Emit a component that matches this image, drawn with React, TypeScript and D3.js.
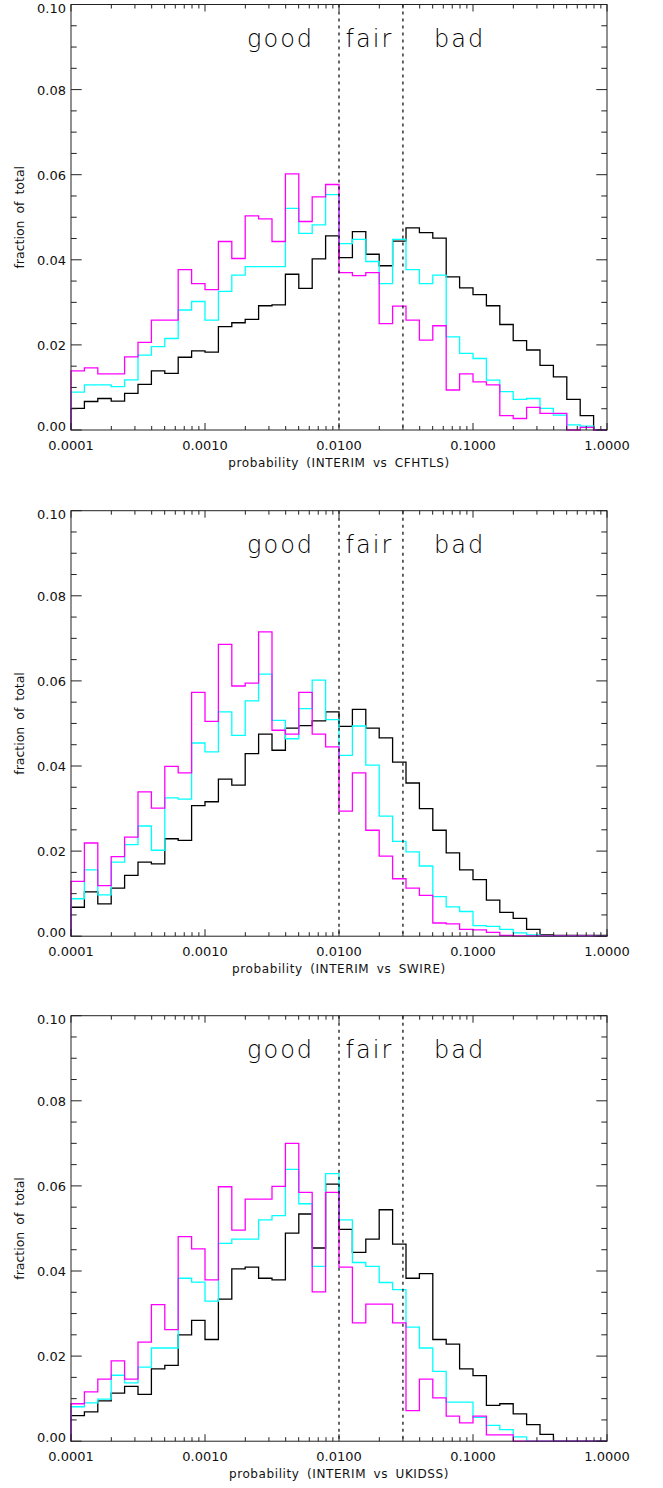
import React from "react";
import * as d3 from "d3";

// fraction of total per 0.1-dex probability bin, 1e-4 .. 1
const cfhtlsMagenta = [
  0.0139, 0.0146, 0.0132, 0.0132, 0.0172, 0.0206, 0.0258, 0.0258, 0.0377, 0.0344,
  0.033, 0.0443, 0.0403, 0.0503, 0.0496, 0.0443, 0.0602, 0.049, 0.0548, 0.0577,
  0.037, 0.0363, 0.037, 0.025, 0.0291, 0.0258, 0.0211, 0.0245, 0.0094, 0.0132,
  0.0113, 0.0106, 0.0034, 0.0027, 0.0053, 0.0039, 0.0039, 0.0, 0.0006, 0.0,
];
const cfhtlsCyan = [
  0.0089, 0.0106, 0.0106, 0.0102, 0.0118, 0.0176, 0.0196, 0.0215, 0.0282, 0.0302,
  0.0258, 0.0326, 0.0364, 0.0384, 0.0384, 0.0384, 0.0521, 0.0462, 0.0482, 0.0553,
  0.0438, 0.0448, 0.0396, 0.0344, 0.0448, 0.0377, 0.0344, 0.0364, 0.0219, 0.018,
  0.0168, 0.0117, 0.009, 0.0072, 0.0074, 0.0051, 0.0035, 0.0012, 0.0009, 0.0,
];
const cfhtlsBlack = [
  0.0051, 0.0067, 0.0074, 0.0068, 0.0086, 0.0107, 0.0139, 0.0133, 0.0171, 0.0186,
  0.0183, 0.0243, 0.0252, 0.026, 0.0292, 0.0294, 0.0366, 0.0333, 0.0402, 0.0456,
  0.0405, 0.0466, 0.0413, 0.0386, 0.0444, 0.0475, 0.0464, 0.0451, 0.036, 0.0334,
  0.0318, 0.0292, 0.0248, 0.021, 0.0188, 0.0152, 0.0125, 0.0072, 0.0034, 0.0,
];

const swireMagenta = [
  0.0129, 0.0219, 0.0119, 0.0187, 0.0233, 0.0339, 0.0301, 0.0399, 0.0384, 0.0573,
  0.0505, 0.0686, 0.0588, 0.0595, 0.0715, 0.0484, 0.0475, 0.0573, 0.0475, 0.0445,
  0.0294, 0.0384, 0.0249, 0.0188, 0.0135, 0.0113, 0.0096, 0.0031, 0.0029, 0.0016,
  0.0015, 0.0009, 0.0002, 0.0001, 0.0001, 0.0001, 0.0001, 0.0001, 0.0001, 0.0,
];
const swireCyan = [
  0.0088, 0.0156, 0.0097, 0.0174, 0.0215, 0.0259, 0.0202, 0.0325, 0.0322, 0.0454,
  0.0433, 0.0527, 0.0472, 0.0553, 0.0616, 0.0507, 0.0464, 0.0535, 0.0602, 0.0509,
  0.0425, 0.0494, 0.0402, 0.0282, 0.0223, 0.0198, 0.0165, 0.0093, 0.0069, 0.0058,
  0.0025, 0.0023, 0.0016, 0.0008, 0.0003, 0.0001, 0.0001, 0.0001, 0.0001, 0.0,
];
const swireBlack = [
  0.0068, 0.0104, 0.0076, 0.0113, 0.0143, 0.0174, 0.017, 0.0229, 0.0225, 0.0307,
  0.0316, 0.0369, 0.0355, 0.0429, 0.0475, 0.0437, 0.0489, 0.0495, 0.0506, 0.0527,
  0.0493, 0.0533, 0.0489, 0.0466, 0.0409, 0.036, 0.03, 0.0249, 0.0196, 0.0156,
  0.0133, 0.0085, 0.0056, 0.0042, 0.0016, 0.0003, 0.0002, 0.0002, 0.0002, 0.0002,
];

const ukidssMagenta = [
  0.0088, 0.0116, 0.0146, 0.0189, 0.0146, 0.0233, 0.0321, 0.0262, 0.0481, 0.0452,
  0.0379, 0.0598, 0.0496, 0.0569, 0.0569, 0.0599, 0.07, 0.0585, 0.0351, 0.0585,
  0.0409, 0.0278, 0.0322, 0.0322, 0.0278, 0.0072, 0.0146, 0.0102, 0.0059, 0.0043,
  0.0059, 0.0015, 0.0015, 0.0, 0.0, 0.0, 0.0, 0.0, 0.0, 0.0,
];
const ukidssCyan = [
  0.0081, 0.009, 0.0099, 0.0155, 0.0137, 0.0174, 0.0219, 0.0219, 0.0383, 0.0374,
  0.0329, 0.0465, 0.0475, 0.0475, 0.052, 0.053, 0.0639, 0.0558, 0.0411, 0.0629,
  0.052, 0.042, 0.0411, 0.0373, 0.0356, 0.0268, 0.0219, 0.0164, 0.0092, 0.0092,
  0.0056, 0.0037, 0.0027, 0.001, 0.0, 0.0, 0.0, 0.0, 0.0, 0.0,
];
const ukidssBlack = [
  0.006, 0.0069, 0.0095, 0.0113, 0.0129, 0.011, 0.017, 0.0178, 0.025, 0.0284,
  0.0239, 0.0334, 0.0405, 0.0409, 0.0383, 0.0379, 0.0489, 0.0534, 0.0454, 0.0604,
  0.0498, 0.0444, 0.0475, 0.0544, 0.0463, 0.0383, 0.0394, 0.0239, 0.0228, 0.017,
  0.0154, 0.0084, 0.0088, 0.0064, 0.0039, 0.0016, 0.0, 0.0, 0.0, 0.0,
];

const surveys = ["CFHTLS", "SWIRE", "UKIDSS"];
const seriesColors = ["#000000", "#00ffff", "#ff00ff"];
const panelSeries = [
  [cfhtlsBlack, cfhtlsCyan, cfhtlsMagenta],
  [swireBlack, swireCyan, swireMagenta],
  [ukidssBlack, ukidssCyan, ukidssMagenta],
];
const yTicks = [0, 0.02, 0.04, 0.06, 0.08, 0.1];
const xTicks = [0.0001, 0.001, 0.01, 0.1, 1];
const cuts = [0.01, 0.03];
// left edge of each zone label, in probability units
const zoneLabels = [
  { text: "good", x: 0.00206 },
  { text: "fair", x: 0.0112 },
  { text: "bad", x: 0.0512 },
];

const W = 663;
const H = 1488;
const left = 71;
const right = 607;
const panelTop = [4.5, 510.7, 1015.7];
const panelH = 425.5;
const font = "'DejaVu Sans', sans-serif";

const x = d3.scaleLog().domain([0.0001, 1]).range([left, right]);
const nBins = 40;
const edges = d3.range(nBins + 1).map((k) => Math.pow(10, -4 + k / 10));

const Panel = ({ idx }: { idx: number }) => {
  const top = panelTop[idx];
  const bottom = top + panelH;
  const y = d3.scaleLinear().domain([0, 0.1]).range([bottom, top]);
  const line = d3
    .line<[number, number]>()
    .x((d) => x(d[0]))
    .y((d) => y(d[1]))
    .curve(d3.curveStepAfter);

  const minorY = d3.range(0, 0.1001, 0.005).filter((v) => Math.round(v * 1000) % 20 !== 0);
  const minorX: number[] = [];
  [0.0001, 0.001, 0.01, 0.1].forEach((dec) => {
    for (let m = 2; m <= 9; m++) minorX.push(dec * m);
  });

  return (
    <g>
      {panelSeries[idx].map((vals, i) => {
        const pts: [number, number][] = [[edges[0], 0]];
        vals.forEach((v, k) => pts.push([edges[k], v]));
        pts.push([edges[nBins], 0]);
        return (
          <path
            key={i}
            d={line(pts) || ""}
            fill="none"
            stroke={seriesColors[i]}
            strokeWidth={1.3}
          />
        );
      })}
      {cuts.map((c) => (
        <line
          key={c}
          x1={x(c)}
          x2={x(c)}
          y1={top}
          y2={bottom}
          stroke="#000"
          strokeWidth={1.2}
          strokeDasharray="3,4"
        />
      ))}
      {zoneLabels.map((z) => (
        <text
          key={z.text}
          x={x(z.x)}
          y={top + 42}
          fontSize={24}
          fontFamily={font}
          fontWeight={200}
          letterSpacing={2}
          fill="#000"
        >
          {z.text}
        </text>
      ))}
      <rect x={left} y={top} width={right - left} height={panelH} fill="none" stroke="#222" strokeWidth={1} />
      {yTicks.map((t) => (
        <g key={t}>
          <line x1={left} x2={left + 10.7} y1={y(t)} y2={y(t)} stroke="#222" />
          <line x1={right} x2={right - 10.7} y1={y(t)} y2={y(t)} stroke="#222" />
          <text
            x={66}
            y={y(t) + (t === 0 ? -4 : t === 0.1 ? 4 : 0.7)}
            dy="0.35em"
            textAnchor="end"
            fontSize={13}
            fontFamily={font}
            fill="#111"
          >
            {d3.format(".2f")(t)}
          </text>
        </g>
      ))}
      {minorY.map((t) => (
        <g key={t}>
          <line x1={left} x2={left + 5.7} y1={y(t)} y2={y(t)} stroke="#222" />
          <line x1={right} x2={right - 5.7} y1={y(t)} y2={y(t)} stroke="#222" />
        </g>
      ))}
      {xTicks.map((t) => (
        <g key={t}>
          <line x1={x(t)} x2={x(t)} y1={bottom} y2={bottom - 7} stroke="#222" />
          <line x1={x(t)} x2={x(t)} y1={top} y2={top + 7} stroke="#222" />
          <text
            x={x(t)}
            y={bottom + 20}
            textAnchor="middle"
            fontSize={13}
            fontFamily={font}
            fill="#111"
          >
            {d3.format(".4f")(t)}
          </text>
        </g>
      ))}
      {minorX.map((t) => (
        <g key={t}>
          <line x1={x(t)} x2={x(t)} y1={bottom} y2={bottom - 4} stroke="#222" />
          <line x1={x(t)} x2={x(t)} y1={top} y2={top + 4} stroke="#222" />
        </g>
      ))}
      <text
        x={(left + right) / 2}
        y={bottom + 36.5}
        textAnchor="middle"
        fontSize={12}
        fontFamily={font}
        letterSpacing={0.6}
        wordSpacing={3}
        fill="#111"
      >
        {`probability (INTERIM vs ${surveys[idx]})`}
      </text>
      <text
        transform={`translate(24,${(top + bottom) / 2}) rotate(-90)`}
        textAnchor="middle"
        fontSize={12.5}
        fontFamily={font}
        wordSpacing={3}
        fill="#111"
      >
        fraction of total
      </text>
    </g>
  );
};

const App = () => (
  <svg
    width={W}
    height={H}
    style={{ position: "absolute", left: 0, top: 0, background: "#fff" }}
  >
    <rect width={W} height={H} fill="#fff" />
    {[0, 1, 2].map((i) => (
      <Panel key={i} idx={i} />
    ))}
  </svg>
);

export default App;
